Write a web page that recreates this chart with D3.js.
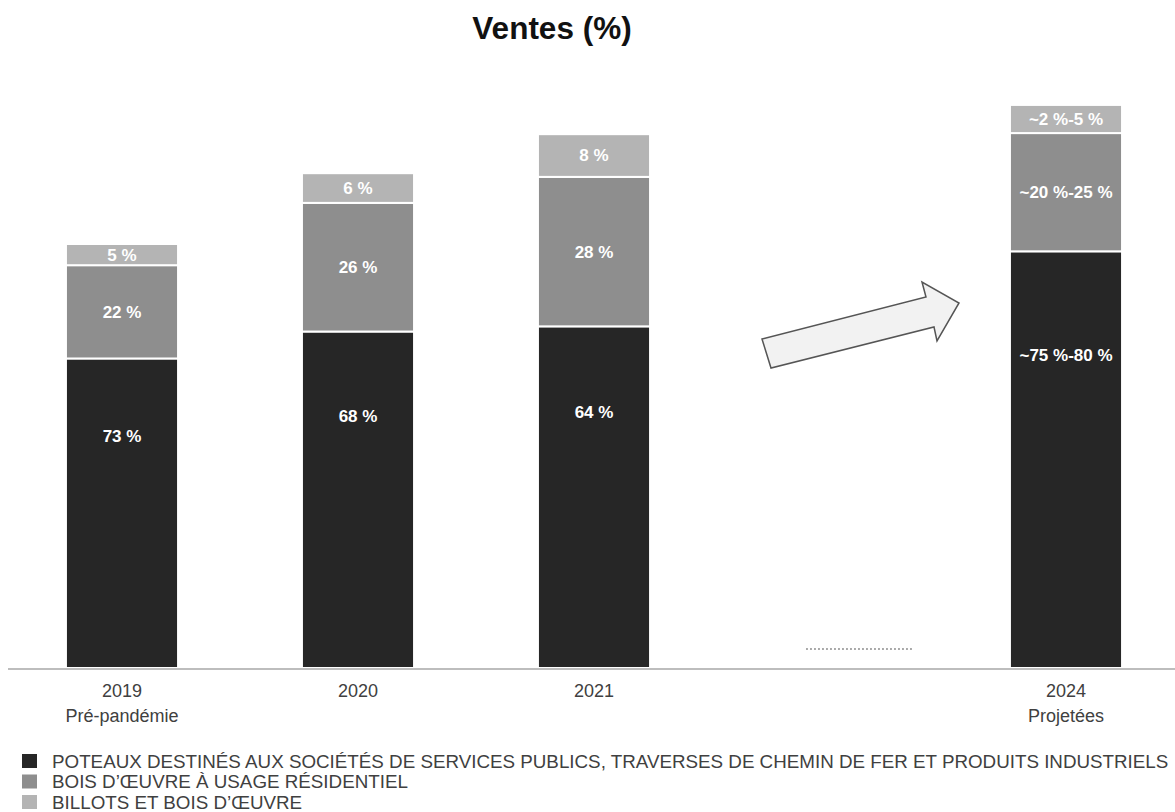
<!DOCTYPE html>
<html>
<head>
<meta charset="utf-8">
<script src="https://cdn.jsdelivr.net/npm/d3@7"></script>
<style>
  body { margin: 0; background: #fff; }
  text { font-family: "Liberation Sans", Arial, sans-serif; }
</style>
</head>
<body>
<svg id="chart" width="1175" height="812"></svg>
<script>
// data
const periods = ["2019", "2020", "2021", "gap", "2024"];
const periodSub = ["Pré-pandémie", "", "", "", "Projetées"];
// relative total sales (2019 = 100), sets bar height
const totals = [100, 116.7, 125.9, null, 132.8];
// shares (%) per segment, bottom to top
const poteaux = [73, 68, 64, null, 74];
const boisResid = [22, 26, 28, null, 21];
const billots = [5, 6, 8, null, 5];
const poteauxLabels = ["73 %", "68 %", "64 %", "", "~75 %-80 %"];
const boisResidLabels = ["22 %", "26 %", "28 %", "", "~20 %-25 %"];
const billotsLabels = ["5 %", "6 %", "8 %", "", "~2 %-5 %"];
const seriesNames = [
  "POTEAUX DESTINÉS AUX SOCIÉTÉS DE SERVICES PUBLICS, TRAVERSES DE CHEMIN DE FER ET PRODUITS INDUSTRIELS",
  "BOIS D’ŒUVRE À USAGE RÉSIDENTIEL",
  "BILLOTS ET BOIS D’ŒUVRE"
];
const colors = ["#262626", "#8e8e8e", "#b4b4b4"];

const width = 1175, height = 812;
const svg = d3.select("#chart");

// scales
const x = d3.scaleBand()
  .domain(periods)
  .range([4, 1184])
  .paddingInner(0.525)
  .paddingOuter(0.2625);

const y = d3.scaleLinear()
  .domain([0, 100])
  .range([668, 244]);

// title
svg.append("text")
  .attr("x", 552)
  .attr("y", 39)
  .attr("text-anchor", "middle")
  .style("font-size", "31.5px")
  .style("font-weight", "bold")
  .attr("fill", "#111")
  .text("Ventes (%)");

// stacked bars
const rows = periods.map((p, i) => ({
  period: p,
  total: totals[i],
  shares: [poteaux[i], boisResid[i], billots[i]],
  labels: [poteauxLabels[i], boisResidLabels[i], billotsLabels[i]]
})).filter(d => d.total != null);

const segs = [];
rows.forEach(r => {
  let acc = 0;
  r.shares.forEach((s, k) => {
    const v0 = acc, v1 = acc + r.total * s / 100;
    segs.push({ period: r.period, k, v0, v1, label: r.labels[k] });
    acc = v1;
  });
});

const g = svg.append("g");

g.selectAll(".seg")
  .data(segs)
  .enter()
  .append("rect")
    .attr("class", "seg")
    .attr("x", d => x(d.period))
    .attr("width", x.bandwidth())
    .attr("y", d => y(d.v1))
    .attr("height", d => y(d.v0) - y(d.v1))
    .attr("fill", d => colors[d.k])
    .attr("stroke", "#fff")
    .attr("stroke-width", 2);

g.selectAll(".segLabel")
  .data(segs)
  .enter()
  .append("text")
    .attr("class", "segLabel")
    .attr("x", d => x(d.period) + x.bandwidth() / 2)
    .attr("y", d => {
      let top = y(d.v1), bot = y(d.v0);
      // dark segment labels sit in the upper part of the bar
      if (d.k == 0) return top + (bot - top) * 0.25;
      return (top + bot) / 2;
    })
    .attr("dy", "0.35em")
    .attr("text-anchor", "middle")
    .attr("fill", "#fff")
    .style("font-size", "17px")
    .style("font-weight", "bold")
    .text(d => d.label);

// baseline
svg.append("line")
  .attr("x1", 8).attr("x2", 1175)
  .attr("y1", y(0) + 1).attr("y2", y(0) + 1)
  .attr("stroke", "#bdbdbd")
  .attr("stroke-width", 2);

// dotted gap marker
svg.append("line")
  .attr("x1", x("gap") + 32).attr("x2", x("gap") + 138)
  .attr("y1", 649).attr("y2", 649)
  .attr("stroke", "#555")
  .attr("stroke-width", 1.2)
  .attr("stroke-dasharray", "2,2");

// arrow
const arrowPts = [[762, 339], [926, 297], [922, 282], [959, 303], [937, 341], [934, 327], [771, 368]];
svg.append("polygon")
  .attr("points", arrowPts.map(p => p.join(",")).join(" "))
  .attr("fill", "#f2f2f2")
  .attr("stroke", "#555")
  .attr("stroke-width", 1.5)
  .attr("stroke-linejoin", "miter");

// axis labels
const axisG = svg.append("g");
periods.forEach((p, i) => {
  if (p == "gap") return;
  const cx = x(p) + x.bandwidth() / 2;
  axisG.append("text")
    .attr("x", cx).attr("y", 697)
    .attr("text-anchor", "middle")
    .attr("fill", "#404040")
    .style("font-size", "18px")
    .text(p);
  if (periodSub[i]) {
    axisG.append("text")
      .attr("x", cx).attr("y", 722)
      .attr("text-anchor", "middle")
      .attr("fill", "#404040")
      .style("font-size", "18px")
      .text(periodSub[i]);
  }
});

// legend
const legend = svg.append("g");
seriesNames.forEach((name, k) => {
  const ly = 761 + k * 20.5;
  legend.append("rect")
    .attr("x", 22).attr("y", ly - 7)
    .attr("width", 15).attr("height", 14)
    .attr("fill", colors[k]);
  legend.append("text")
    .attr("x", 52).attr("y", ly)
    .attr("dy", "0.35em")
    .attr("fill", "#404040")
    .style("font-size", "18.8px")
    .text(name);
});
</script>
</body>
</html>
